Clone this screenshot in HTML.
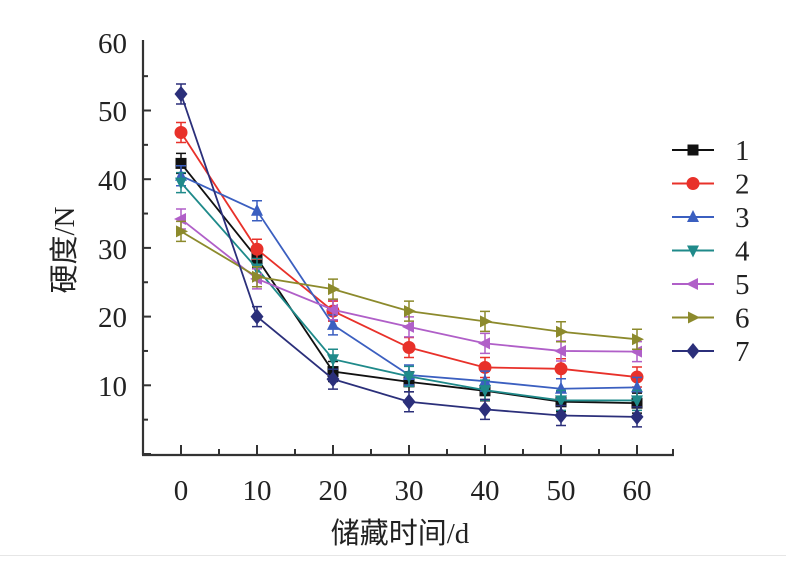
<!DOCTYPE html>
<html><head><meta charset="utf-8"><style>
html,body{margin:0;padding:0;background:#fff;width:786px;height:572px;overflow:hidden}
svg text{font-family:"Liberation Serif","Noto Sans CJK SC",serif;fill:#222}
</style></head><body>
<svg id="s" width="786" height="572" xmlns="http://www.w3.org/2000/svg">
<line x1="0" y1="555.5" x2="786" y2="555.5" stroke="#e6e6e6" stroke-width="1"/>
<g stroke="#333" stroke-width="2.2" fill="none">
<line x1="143" y1="40" x2="143" y2="455"/>
<line x1="142" y1="455" x2="674" y2="455"/>
</g>
<g font-size="29" text-anchor="end">
<text x="127" y="53">60</text><text x="127" y="121">50</text><text x="127" y="190">40</text>
<text x="127" y="259">30</text><text x="127" y="327">20</text><text x="127" y="396">10</text>
</g>
<g font-size="29" text-anchor="middle">
<text x="181" y="500">0</text><text x="257" y="500">10</text><text x="333" y="500">20</text>
<text x="409" y="500">30</text><text x="485" y="500">40</text><text x="561" y="500">50</text><text x="637" y="500">60</text>
</g>
<text x="400" y="543" font-size="29" text-anchor="middle">储藏时间/d</text>
<text transform="translate(74,250) rotate(-90)" font-size="29" text-anchor="middle">硬度/N</text>
<g id="plot"></g>
</svg>
<script>
const ns="http://www.w3.org/2000/svg";
const X=v=>181+v*7.6, Y=v=>454-6.87*v;
const p=document.getElementById('plot');
function el(t,a,par){const e=document.createElementNS(ns,t);for(const k in a)e.setAttribute(k,a[k]);(par||p).appendChild(e);return e;}
for(let i=0;i<=12;i++){const x=181+i*38;el('line',{x1:x,y1:455,x2:x,y2:i%2?449:445,stroke:'#333','stroke-width':2});}
el('line',{x1:673,y1:455,x2:673,y2:449,stroke:'#333','stroke-width':2});
for(let i=0;i<12;i++){const y=454-i*34.35;el('line',{x1:143,y1:y,x2:i%2?148:151,y2:y,stroke:'#333','stroke-width':2});}
const S=[
 ['#111','sq',[42.3,28.5,12,10.5,9.2,7.6,7.4]],
 ['#e8312a','ci',[46.8,29.8,20.8,15.5,12.6,12.4,11.2]],
 ['#3b5fc0','up',[40.5,35.4,18.8,11.5,10.6,9.5,9.7]],
 ['#1f8a8a','dn',[39.5,27,13.8,11.3,9.3,7.8,7.8]],
 ['#b05fc8','lt',[34.2,25.5,21,18.5,16.1,15,14.9]],
 ['#8c8a2c','rt',[32.4,25.8,24,20.8,19.3,17.8,16.7]],
 ['#2b2f7a','di',[52.4,20,10.9,7.6,6.5,5.6,5.4]]];
function mk(type,x,y,c){const r=6;let pts;
 if(type=='sq')return el('rect',{x:x-5.5,y:y-5.5,width:11,height:11,fill:c});
 if(type=='ci')return el('circle',{cx:x,cy:y,r:6.5,fill:c});
 if(type=='up')pts=[[x,y-r-1],[x-r,y+r-1],[x+r,y+r-1]];
 if(type=='dn')pts=[[x,y+r+1],[x-r,y-r+1],[x+r,y-r+1]];
 if(type=='lt')pts=[[x-r-1,y],[x+r-1,y-r],[x+r-1,y+r]];
 if(type=='rt')pts=[[x+r+1,y],[x-r+1,y-r],[x-r+1,y+r]];
 if(type=='di')pts=[[x,y-8],[x+6.5,y],[x,y+8],[x-6.5,y]];
 return el('polygon',{points:pts.map(q=>q.join(',')).join(' '),fill:c});}
S.forEach(([c,t,d])=>{
 el('polyline',{points:d.map((v,i)=>X(i*10)+','+Y(v)).join(' '),fill:'none',stroke:c,'stroke-width':1.8});
 d.forEach((v,i)=>{const x=X(i*10),y=Y(v),e=10;
  el('path',{d:`M${x},${y-e}V${y+e}M${x-5},${y-e}H${x+5}M${x-5},${y+e}H${x+5}`,stroke:c,'stroke-width':1.5,fill:'none'});
  mk(t,x,y,c);});});
S.forEach(([c,t],i)=>{const y=150+i*33.5;
 el('line',{x1:672,y1:y,x2:714,y2:y,stroke:c,'stroke-width':2});mk(t,693,y,c);
 const tx=el('text',{x:735,y:y+10,'font-size':29});tx.textContent=i+1;});
</script>
</body></html>
